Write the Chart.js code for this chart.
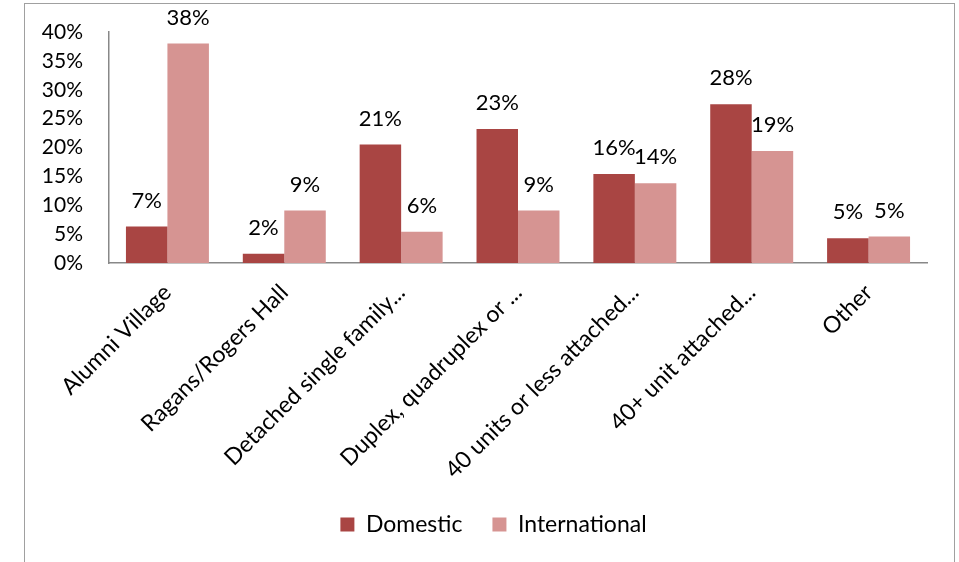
<!DOCTYPE html>
<html>
<head>
<meta charset="utf-8">
<script src="https://cdn.jsdelivr.net/npm/chart.js@4"></script>
<style>
  html, body { margin: 0; padding: 0; background: #fff; overflow: hidden; }
  #wrap { position: relative; width: 959px; height: 562px; }
  #frame { position: absolute; left: 24px; top: 3px; width: 931px; height: 620px; border: 1px solid #a0a0a0; box-sizing: border-box; pointer-events: none; }
</style>
</head>
<body>
<div id="wrap">
  <canvas id="chart" width="959" height="562"></canvas>
  <div id="frame"></div>
</div>
<script>
// categories and values
const categories = ['Alumni Village', 'Ragans/Rogers Hall', 'Detached single family...', 'Duplex, quadruplex or ...', '40 units or less attached...', '40+ unit attached...', 'Other'];
const domestic = [6.3, 1.6, 20.5, 23.2, 15.4, 27.5, 4.3];
const international = [38.0, 9.1, 5.4, 9.1, 13.8, 19.4, 4.6];
// the printed labels over the bars
const domesticText = ['7%', '2%', '21%', '23%', '16%', '28%', '5%'];
const internationalText = ['38%', '9%', '6%', '9%', '14%', '19%', '5%'];
const yTicks = [0, 5, 10, 15, 20, 25, 30, 35, 40];

const FONT = 'Lato, "Open Sans", sans-serif';

// draw the value labels above each bar
const barText = {
  id: 'barText',
  afterLayout(chart) {
    // legend sits a bit right of the plot centre in the original
    chart.legend.left += 30;
    chart.legend.right += 30;
  },
  afterDatasetsDraw(chart) {
    const c = chart.ctx;
    const texts = [domesticText, internationalText];
    c.save();
    c.font = '22px ' + FONT;
    c.fillStyle = '#000';
    c.textAlign = 'center';
    c.textBaseline = 'middle';
    chart.data.datasets.forEach((ds, i) => {
      chart.getDatasetMeta(i).data.forEach((bar, j) => {
        c.fillText(texts[i][j], bar.x, bar.y - 26);
      });
    });
    c.restore();
  }
};

new Chart(document.getElementById('chart'), {
  type: 'bar',
  data: {
    labels: categories,
    datasets: [
      { label: 'Domestic', data: domestic, backgroundColor: '#a94543' },
      { label: 'International', data: international, backgroundColor: '#d69492' }
    ]
  },
  options: {
    responsive: false,
    animation: false,
    layout: { padding: { left: 0, right: 32, top: 32, bottom: 16 } },
    datasets: { bar: { categoryPercentage: 0.71, barPercentage: 1.0 } },
    scales: {
      x: {
        grid: { display: false, drawTicks: false },
        border: { color: '#888', width: 1.5 },
        ticks: {
          minRotation: 45, maxRotation: 45, autoSkip: false,
          padding: 16,
          color: '#000',
          font: { family: FONT, size: 23 }
        },
        afterFit(scale) { scale.height = 220; }
      },
      y: {
        min: 0, max: 40,
        grid: { display: false, drawTicks: false },
        border: { color: '#888', width: 1.5 },
        afterBuildTicks(scale) { scale.ticks = yTicks.map(v => ({ value: v })); },
        ticks: {
          autoSkip: false,
          padding: 26,
          color: '#000',
          font: { family: FONT, size: 21 },
          callback: v => v + '%'
        },
        afterFit(scale) {
          scale.width = 109;
          scale.paddingTop = 0;
          scale.paddingBottom = 0;
        }
      }
    },
    plugins: {
      tooltip: { enabled: false },
      legend: {
        position: 'bottom',
        labels: {
          boxWidth: 14, boxHeight: 14, padding: 30,
          color: '#000',
          font: { family: FONT, size: 23 }
        }
      }
    }
  },
  plugins: [barText]
});
</script>
</body>
</html>
